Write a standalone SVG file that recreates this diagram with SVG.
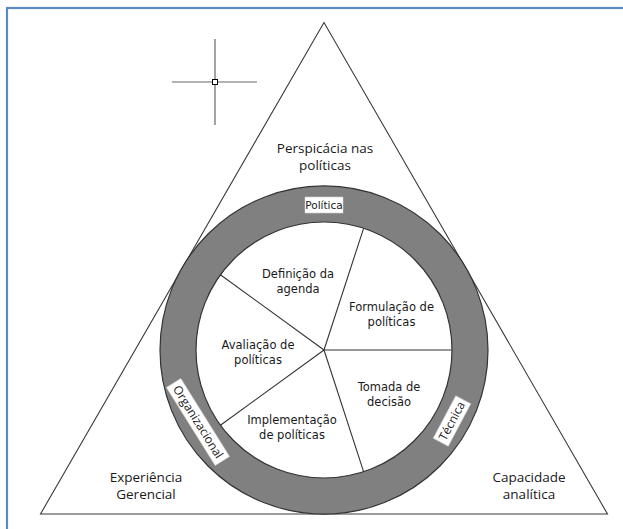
<svg xmlns="http://www.w3.org/2000/svg" width="623" height="529" viewBox="0 0 623 529">
  <style>
    .frame { fill: none; stroke: #5b89c6; stroke-width: 2.2; }
    .tri { fill: none; stroke: #3a3a3a; stroke-width: 1.1; }
    .ring { fill: #808080; stroke: #333333; stroke-width: 1.2; fill-rule: evenodd; }
    .spoke { stroke: #333333; stroke-width: 1.1; }
    .cross { stroke: #666666; stroke-width: 1.2; }
    .outer { font-family: "Open Sans", "DejaVu Sans", sans-serif; font-size: 13.5px; fill: #1a1a1a; text-anchor: middle; }
    .inner { font-family: "DejaVu Sans", Verdana, sans-serif; font-size: 11.5px; fill: #1a1a1a; text-anchor: middle; }
    .tag { font-family: "DejaVu Sans", Verdana, sans-serif; font-size: 10.5px; fill: #1a1a1a; text-anchor: middle; }
    .rtag { font-family: "Open Sans", "DejaVu Sans", sans-serif; font-size: 12px; fill: #1a1a1a; text-anchor: middle; }
    .tagbox { fill: #ffffff; stroke: #cfcfcf; stroke-width: 0.6; }
  </style>
  <rect x="0" y="0" width="623" height="529" fill="#ffffff"/>
  <rect class="frame" x="7" y="8" width="700" height="600"/>

  <g id="crosshair">
    <line class="cross" x1="215" y1="39" x2="215" y2="125"/>
    <line class="cross" x1="172" y1="82" x2="257" y2="82"/>
    <rect x="212.5" y="79.5" width="5" height="5" fill="#ffffff" stroke="#000000" stroke-width="1"/>
  </g>

  <g id="triangle">
    <polygon class="tri" points="324,22.5 40.5,514 607.5,514"/>
  </g>

  <g id="ring">
    <path class="ring" d="M 160,350 A 164,164 0 1 0 488,350 A 164,164 0 1 0 160,350 Z M 196,350 A 128,128 0 1 0 452,350 A 128,128 0 1 0 196,350 Z"/>
  </g>

  <g id="connectors">
    <line class="spoke" x1="324" y1="350" x2="452" y2="350"/>
    <line class="spoke" x1="324" y1="350" x2="363.6" y2="228.3"/>
    <line class="spoke" x1="324" y1="350" x2="220.4" y2="274.8"/>
    <line class="spoke" x1="324" y1="350" x2="220.4" y2="425.2"/>
    <line class="spoke" x1="324" y1="350" x2="363.6" y2="471.7"/>
  </g>

  <g id="perspicacia">
    <text class="outer" x="325" y="153">Perspicácia nas</text>
    <text class="outer" x="325" y="169.5">políticas</text>
  </g>
  <g id="experiencia">
    <text class="outer" x="146" y="482">Experiência</text>
    <text class="outer" x="146" y="498.5">Gerencial</text>
  </g>
  <g id="capacidade">
    <text class="outer" x="529" y="482">Capacidade</text>
    <text class="outer" x="529" y="498.5">analítica</text>
  </g>

  <g id="politica">
    <rect class="tagbox" x="305" y="197" width="38" height="16"/>
    <text class="tag" x="324" y="208.5">Política</text>
  </g>
  <g id="organizacional" transform="translate(198,422) rotate(58)">
    <rect class="tagbox" x="-46" y="-8.5" width="92" height="17"/>
    <text class="rtag" x="0" y="4">Organizacional</text>
  </g>
  <g id="tecnica" transform="translate(452,421) rotate(-62)">
    <rect class="tagbox" x="-24" y="-8.5" width="48" height="17"/>
    <text class="rtag" x="0" y="4">Técnica</text>
  </g>

  <g id="definicao">
    <text class="inner" x="298" y="278">Definição da</text>
    <text class="inner" x="298" y="292.5">agenda</text>
  </g>
  <g id="formulacao">
    <text class="inner" x="391.5" y="311">Formulação de</text>
    <text class="inner" x="391.5" y="325.5">políticas</text>
  </g>
  <g id="avaliacao">
    <text class="inner" x="258" y="349">Avaliação de</text>
    <text class="inner" x="258" y="363.5">políticas</text>
  </g>
  <g id="tomada">
    <text class="inner" x="389" y="391">Tomada de</text>
    <text class="inner" x="389" y="405.5">decisão</text>
  </g>
  <g id="implementacao">
    <text class="inner" x="292" y="424">Implementação</text>
    <text class="inner" x="292" y="438.5">de políticas</text>
  </g>
</svg>
